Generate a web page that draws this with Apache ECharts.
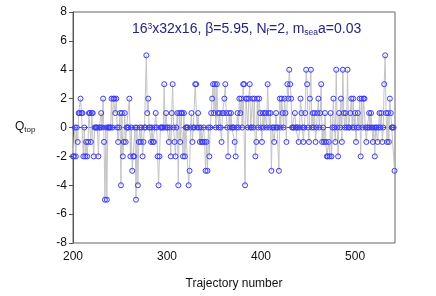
<!DOCTYPE html>
<html>
<head>
<meta charset="utf-8">
<script src="https://cdn.jsdelivr.net/npm/echarts@6/dist/echarts.min.js"></script>
<style>html,body{margin:0;padding:0;background:#fff}#c{width:436px;height:296px}</style>
</head>
<body>
<div id="c"></div>
<script>
// Trajectory numbers start at 200 (one point per trajectory)
const firstTrajectory = 200;
// Topological charge Q_top per trajectory (200..542)
const qTop = [
  -2,-2,0,-2,0,-1,1,1,2,1,
  1,-2,0,-2,-1,-2,-1,1,1,-1,
  1,1,-2,0,0,0,0,-2,0,0,
  1,0,2,-1,-5,0,-5,0,0,0,
  0,2,0,2,2,1,2,0,-1,0,
  1,-4,1,-2,-1,1,-1,0,0,0,
  2,-2,0,-3,-2,-2,0,-5,0,-4,
  -1,0,-1,0,-2,-1,0,0,5,1,
  2,0,0,-1,0,-1,-1,0,1,0,
  -2,-4,-2,0,0,0,0,3,0,1,
  0,0,-1,0,-2,1,3,0,-1,-2,
  0,1,-4,1,-1,1,1,-2,1,-2,
  0,0,0,-4,-3,0,1,-1,0,0,
  3,3,0,1,0,-1,0,-1,-1,0,
  -1,-3,-1,-3,0,-2,0,1,2,3,
  1,3,0,3,1,0,1,0,-1,1,
  1,2,3,1,0,-2,1,0,1,0,
  0,0,-1,-2,0,1,0,2,1,2,
  0,3,3,-4,2,2,0,2,3,0,
  0,2,0,2,-2,-1,2,0,2,1,
  0,-1,1,0,1,1,0,3,1,0,
  1,-3,0,0,-1,0,1,0,0,-3,
  2,0,2,1,0,2,1,-1,3,2,
  4,3,2,0,0,0,1,0,0,0,
  -1,0,2,1,0,-1,0,1,4,3,
  0,-1,2,4,0,1,0,1,-1,0,
  1,2,0,1,3,-1,0,-1,1,-1,
  -2,-2,-1,-2,1,-2,0,2,0,-1,
  4,0,-2,1,0,2,-1,4,1,0,
  1,0,4,0,0,1,2,0,2,0,
  1,-1,0,1,0,2,-2,2,0,2,
  2,0,-1,0,0,1,0,1,0,-1,
  0,-2,0,0,-1,0,1,0,1,-1,
  0,3,5,1,-1,1,-1,2,1,0,
  0,0,-3
];
const xTicks = [200, 300, 400, 500];
const yTicks = [-8, -6, -4, -2, 0, 2, 4, 6, 8];

const seriesData = qTop.map((q, i) => [firstTrajectory + i, q]);
const font = '"Liberation Sans", Arial, sans-serif';

const chart = echarts.init(document.getElementById('c'), null, {renderer: 'canvas'});
chart.setOption({
  animation: false,
  backgroundColor: '#fff',
  grid: {left: 73, right: 41, top: 12, bottom: 53, show: true, borderColor: '#666', borderWidth: 1},
  title: {
    text: '16{sup|3}x32x16, β=5.95, N{sub|f}=2, m{sub|sea}a=0.03',
    left: 127, top: 17,
    textStyle: {
      fontFamily: font, fontSize: 14, fontWeight: 'normal', color: '#23238e',
      rich: {
        sup: {fontSize: 8.5, verticalAlign: 'top', color: '#23238e', fontFamily: font, padding: [0,0,6,0]},
        sub: {fontSize: 8.5, verticalAlign: 'bottom', color: '#23238e', fontFamily: font, padding: [5,0,0,0]}
      }
    }
  },
  xAxis: {
    type: 'value', min: xTicks[0], max: 542.5, interval: 100,
    axisLine: {show: true, lineStyle: {color: '#555'}},
    axisTick: {show: true, inside: false, length: 4, lineStyle: {color: '#555'}},
    axisLabel: {
      fontFamily: font, fontSize: 12, color: '#111', margin: 8,
      showMaxLabel: false,
      formatter: v => xTicks.includes(v) ? String(v) : ''
    },
    splitLine: {show: false},
    name: 'Trajectory number', nameLocation: 'middle', nameGap: 35,
    nameTextStyle: {fontFamily: font, fontSize: 12, color: '#111'}
  },
  yAxis: {
    type: 'value', min: yTicks[0], max: yTicks[yTicks.length - 1], interval: 2,
    axisLine: {show: true, lineStyle: {color: '#555'}},
    axisTick: {show: true, inside: false, length: 4, lineStyle: {color: '#555'}},
    axisLabel: {fontFamily: font, fontSize: 12, color: '#111', margin: 6},
    splitLine: {show: false}
  },
  graphic: [{
    type: 'text', left: 15, top: 121,
    style: {
      text: 'Q{sub|top}', fontFamily: font, fontSize: 12, fill: '#111',
      rich: {sub: {fontSize: 8, verticalAlign: 'bottom', fontFamily: font, fill: '#111', padding: [5,0,0,0]}}
    }
  }],
  series: [{
    type: 'line',
    data: seriesData,
    symbol: 'circle', symbolSize: 5, showAllSymbol: true,
    lineStyle: {color: '#c4c4c4', width: 1},
    itemStyle: {color: 'rgba(255,255,255,0)', borderColor: '#3a3aff', borderWidth: 1},
    emphasis: {disabled: true}
  }]
});
</script>
</body>
</html>
